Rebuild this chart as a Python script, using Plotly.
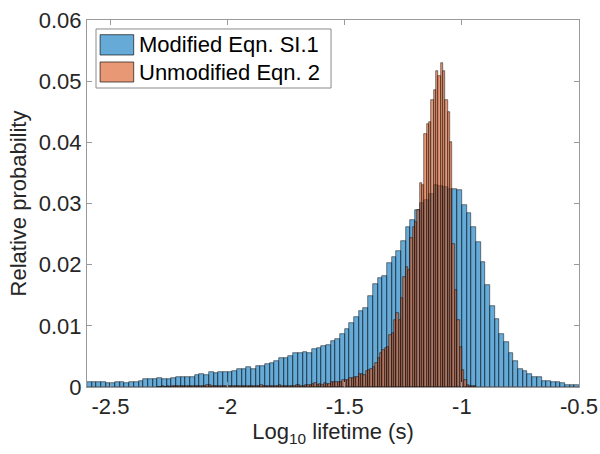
import plotly.graph_objects as go

# ---- data (relative probability per bin) ----
blue_name = "Modified Eqn. SI.1"
orange_name = "Unmodified Eqn. 2"

blue_bin_start = -2.6
blue_bin_width = 0.02
blue_values = [
    0.00087, 0.00087, 0.00076, 0.00076, 0.0006, 0.0006, 0.00076, 0.00076, 0.0006, 0.00087,
    0.00087, 0.001, 0.00125, 0.00125, 0.00125, 0.00147, 0.00125, 0.00125, 0.00147, 0.0017,
    0.0017, 0.0017, 0.0016, 0.0019, 0.0021, 0.0019, 0.0025, 0.0023, 0.0025, 0.0025,
    0.0025, 0.0026, 0.0029, 0.003, 0.0032, 0.003, 0.0034, 0.0035, 0.0038, 0.004,
    0.0042, 0.0047, 0.0048, 0.005, 0.0055, 0.0055, 0.0057, 0.0055, 0.0062, 0.0064,
    0.0067, 0.0068, 0.0076, 0.0078, 0.0087, 0.0095, 0.0104, 0.0115, 0.0125, 0.0129,
    0.0148, 0.0169, 0.0178, 0.0182, 0.0202, 0.0213, 0.0222, 0.0239, 0.0261, 0.0273,
    0.029, 0.0301, 0.0305, 0.0315, 0.033, 0.0329, 0.0327, 0.0324, 0.0324, 0.0322,
    0.0298, 0.0284, 0.0261, 0.0237, 0.0204, 0.0166, 0.0132, 0.0111, 0.0086, 0.0073,
    0.0056, 0.0042, 0.003, 0.0026, 0.0022, 0.0017, 0.0016, 0.001, 0.001, 0.0009,
    0.0008, 0.0006, 0.0004, 0.0004, 0.0003,
]

orange_bin_start = -2.30
orange_bin_width = 0.01
orange_values = [
    0, 0, 0.0001, 0, 0.0001, 0, 0.0001, 0.0001, 0.0001, 0.0002,
    0.0001, 0.0001, 0.0001, 0.0001, 0.0002, 0.0001, 0.0001, 0.0002, 0.0001, 0.0002,
    0.0002, 0.0003, 0.0003, 0.0002, 0.0002, 0.0001, 0.0002, 0.0002, 0.0001, 0.0002,
    0.0002, 0.0001, 0.0002, 0.0002, 0.0001, 0.0002, 0.0002, 0.0001, 0.0002, 0.0002,
    0.0001, 0.0001, 0.0001, 0.0002, 0.0003, 0.0001, 0.0002, 0.0002, 0.0001, 0.0002,
    0.0002, 0.0002, 0.0003, 0.0002, 0.0002, 0.0002, 0.0001, 0.0002, 0.0002, 0.0003,
    0.0003, 0.0002, 0.0002, 0.0003, 0.0003, 0.0004,
    0.0005, 0.0006, 0.0004, 0.0005, 0.0004, 0.0006, 0.0005, 0.0005, 0.0008, 0.0008,
    0.0008, 0.0009, 0.0009, 0.0011, 0.0012, 0.0012, 0.0014, 0.0015, 0.0017, 0.0016,
    0.0021, 0.0021, 0.0020, 0.0026, 0.0028,
    0.003, 0.0032, 0.004, 0.0048, 0.0055, 0.006, 0.0064, 0.0066, 0.0085, 0.0088,
    0.011, 0.0121, 0.011, 0.0145, 0.018, 0.0197, 0.0192, 0.0243, 0.0261, 0.0269,
    0.029, 0.0334, 0.033, 0.0414, 0.043,
    0.0434, 0.047, 0.0485, 0.0517, 0.0509, 0.053, 0.0517, 0.047, 0.045, 0.040,
    0.0233, 0.0159, 0.011, 0.0066, 0.0028, 0.0012, 0.0004, 0.0002, 0.0001, 0.0001,
]

x_ticks = [-2.5, -2, -1.5, -1, -0.5]
x_tick_text = ["-2.5", "-2", "-1.5", "-1", "-0.5"]
y_ticks = [0, 0.01, 0.02, 0.03, 0.04, 0.05, 0.06]
y_tick_text = ["0", "0.01", "0.02", "0.03", "0.04", "0.05", "0.06"]
x_range = [-2.6, -0.5]
y_range = [0, 0.06]

# ---- styles ----
BLUE = "rgba(0,114,189,0.6)"
ORANGE = "rgba(217,83,25,0.6)"
EDGE = "rgba(0,0,0,0.8)"
FONT = "Liberation Sans, Arial, Helvetica, sans-serif"
TXT = "#262626"
AX = "#9a9a9a"

blue_centers = [blue_bin_start + blue_bin_width * (i + 0.5) for i in range(len(blue_values))]
orange_centers = [orange_bin_start + orange_bin_width * (i + 0.5) for i in range(len(orange_values))]

fig = go.Figure()
fig.add_trace(go.Bar(
    x=blue_centers, y=blue_values, width=blue_bin_width, name=blue_name,
    marker=dict(color=BLUE, line=dict(color=EDGE, width=0.6)), showlegend=False,
))
fig.add_trace(go.Bar(
    x=orange_centers, y=orange_values, width=orange_bin_width, name=orange_name,
    marker=dict(color=ORANGE, line=dict(color=EDGE, width=0.6)), showlegend=False,
))

# manual MATLAB-like legend
shapes = [
    dict(type="rect", xref="paper", yref="paper", x0=0.0183, x1=0.496, y0=0.8147, y1=0.9755,
         fillcolor="white", line=dict(color="#8a8a8a", width=1), layer="above"),
    dict(type="rect", xref="paper", yref="paper", x0=0.0266, x1=0.0949, y0=0.9046, y1=0.960,
         fillcolor=BLUE, line=dict(color=EDGE, width=0.8), layer="above"),
    dict(type="rect", xref="paper", yref="paper", x0=0.0266, x1=0.0949, y0=0.831, y1=0.8856,
         fillcolor=ORANGE, line=dict(color=EDGE, width=0.8), layer="above"),
]
annotations = [
    dict(text=blue_name, xref="paper", yref="paper", x=0.1024, y=0.932, xanchor="left",
         yanchor="middle", showarrow=False, font=dict(family=FONT, size=22, color="black")),
    dict(text=orange_name, xref="paper", yref="paper", x=0.1024, y=0.858, xanchor="left",
         yanchor="middle", showarrow=False, font=dict(family=FONT, size=22, color="black")),
]

fig.update_layout(
    width=600, height=454,
    margin=dict(l=87, r=21, t=20, b=67),
    paper_bgcolor="white", plot_bgcolor="white",
    barmode="overlay", bargap=0,
    font=dict(family=FONT, size=22, color=TXT),
    shapes=shapes, annotations=annotations,
    xaxis=dict(
        range=x_range, tickvals=x_ticks, ticktext=x_tick_text, automargin=False,
        showline=True, linecolor=AX, linewidth=1, mirror="ticks",
        ticks="inside", ticklen=5, tickcolor=AX, showgrid=False, zeroline=False,
        tickfont=dict(family=FONT, size=22, color=TXT),
        title=dict(text="Log<sub>10</sub> lifetime (s)", standoff=4,
                   font=dict(family=FONT, size=22, color=TXT)),
    ),
    yaxis=dict(
        range=y_range, tickvals=y_ticks, ticktext=y_tick_text, automargin=False,
        showline=True, linecolor=AX, linewidth=1, mirror="ticks",
        ticks="inside", ticklen=5, tickcolor=AX, showgrid=False, zeroline=False,
        tickfont=dict(family=FONT, size=22, color=TXT),
        title=dict(text="Relative probability", standoff=6,
                   font=dict(family=FONT, size=22, color=TXT)),
    ),
)

fig.write_html("out.html")
